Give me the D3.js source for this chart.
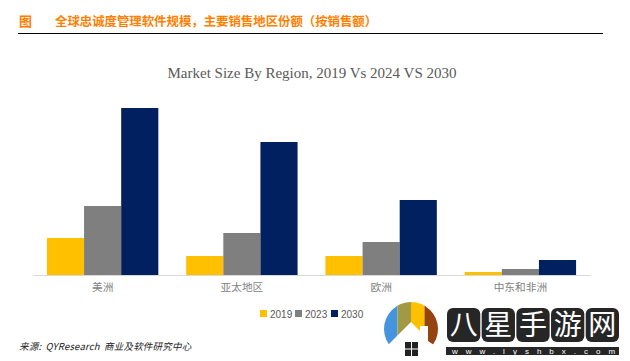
<!DOCTYPE html>
<html>
<head>
<meta charset="utf-8">
<script src="https://cdn.jsdelivr.net/npm/d3@7"></script>
<style>
html, body { margin: 0; padding: 0; background: #fff; }
svg { display: block; }
</style>
</head>
<body>
<svg id="chart" width="630" height="361"></svg>
<script>
// values
const regions = ['美洲', '亚太地区', '欧洲', '中东和非洲'];
const years = ['2019', '2023', '2030'];
const values2019 = [37, 19, 19, 3];
const values2023 = [69, 42, 33, 6];
const values2030 = [167, 133, 75, 15];
const yearColors = ['#ffc000', '#7f7f7f', '#002060'];
const logoColors = ['#4495dd', '#a09a45', '#ffc000', '#96440f'];
const siteChars = ['八', '星', '手', '游', '网'];

const cjk = '"Noto Sans CJK SC", sans-serif';
const svg = d3.select('#chart');

// header
svg.append('text').attr('x', 19).attr('y', 26)
    .attr('fill', '#ff8000').attr('font-family', cjk).attr('font-size', 13).attr('font-weight', 700)
    .text('图');
svg.append('text').attr('x', 55).attr('y', 26)
    .attr('fill', '#ff8000').attr('font-family', cjk).attr('font-size', 12.4).attr('font-weight', 700)
    .text('全球忠诚度管理软件规模，主要销售地区份额（按销售额）');
svg.append('line').attr('x1', 18).attr('x2', 603).attr('y1', 33.5).attr('y2', 33.5)
    .attr('stroke', '#000').attr('stroke-width', 1);

// chart title
svg.append('text').attr('x', 312).attr('y', 78).attr('text-anchor', 'middle')
    .attr('fill', '#595959').attr('font-family', '"Liberation Serif", serif').attr('font-size', 15)
    .text('Market Size By Region, 2019 Vs 2024 VS 2030');

// scales
const x0 = d3.scaleBand().domain(regions).range([33, 590]).paddingInner(0.2).paddingOuter(0.1);
const x1 = d3.scaleBand().domain(years).range([0, x0.bandwidth()]);
const y = d3.scaleLinear().domain([0, 167]).range([275, 108]);
const color = d3.scaleOrdinal().domain(years).range(yearColors);

const series = [values2019, values2023, values2030];
const groups = svg.append('g').selectAll('g')
    .data(regions)
    .join('g')
    .attr('transform', d => `translate(${x0(d)},0)`);

groups.selectAll('rect')
    .data((d, i) => years.map((yr, k) => ({ yr, v: series[k][i] })))
    .join('rect')
    .attr('x', d => x1(d.yr))
    .attr('y', d => y(d.v))
    .attr('width', x1.bandwidth())
    .attr('height', d => y(0) - y(d.v))
    .attr('fill', d => color(d.yr));

// category axis
const axis = svg.append('g').attr('transform', 'translate(0,275)')
    .call(d3.axisBottom(x0).tickSize(0).tickPadding(8));
axis.select('.domain').attr('stroke', '#d9d9d9').attr('stroke-width', 1);
axis.selectAll('text').attr('fill', '#7f7f7f').attr('font-family', cjk).attr('font-size', 10.7);

// legend
const legendX = [260, 295, 331];
const legend = svg.append('g').selectAll('g')
    .data(years)
    .join('g')
    .attr('transform', (d, i) => `translate(${legendX[i]},310)`);
legend.append('rect').attr('width', 7).attr('height', 7).attr('fill', d => color(d));
legend.append('text').attr('x', 10).attr('y', 8)
    .attr('fill', '#595959').attr('font-family', '"Liberation Sans", sans-serif').attr('font-size', 10)
    .text(d => d);

// source note
svg.append('text').attr('x', 19).attr('y', 350)
    .attr('fill', '#222').attr('font-family', cjk).attr('font-size', 9.5).attr('font-style', 'italic')
    .attr('letter-spacing', 0.2).attr('word-spacing', 2)
    .text('来源: QYResearch 商业及软件研究中心');

// site mark, bottom right: striped dome with a house cut out
const mark = svg.append('g');
const domeX = d3.scaleBand().domain(logoColors).range([384, 438]);
svg.append('defs').append('clipPath').attr('id', 'dome')
    .append('circle').attr('cx', 411).attr('cy', 329).attr('r', 27);
mark.append('g').attr('clip-path', 'url(#dome)')
    .selectAll('rect').data(logoColors).join('rect')
    .attr('x', d => domeX(d)).attr('y', 300).attr('width', domeX.bandwidth()).attr('height', 62)
    .attr('fill', d => d);
mark.append('path')
    .attr('d', 'M388 345L411 322L420 331V326H428V341L434 345V361H388Z')
    .attr('fill', '#fff');
mark.append('rect').attr('x', 405).attr('y', 342).attr('width', 13).attr('height', 14).attr('fill', '#222');
mark.append('path').attr('d', 'M411.5 342V356M405 349H418').attr('stroke', '#fff').attr('stroke-width', 1);

const siteX = d3.scaleBand().domain(siteChars).range([447, 619]).paddingInner(0.04);
mark.selectAll('rect.ch').data(siteChars).join('rect').attr('class', 'ch')
    .attr('x', d => siteX(d)).attr('y', 308).attr('width', siteX.bandwidth()).attr('height', 34).attr('rx', 6)
    .attr('fill', '#262626');
mark.selectAll('text.ch').data(siteChars).join('text').attr('class', 'ch')
    .attr('x', d => siteX(d) + siteX.bandwidth() / 2).attr('y', 335).attr('text-anchor', 'middle')
    .attr('fill', '#fff').attr('font-family', cjk).attr('font-size', 28).attr('font-weight', 400)
    .text(d => d);
mark.append('rect').attr('x', 446).attr('y', 347).attr('width', 173).attr('height', 8).attr('fill', '#262626');
mark.append('text').attr('x', 452).attr('y', 354)
    .attr('fill', '#fff').attr('font-family', '"Liberation Sans", sans-serif').attr('font-size', 8)
    .attr('letter-spacing', 8)
    .text('www.lyshbx.com');
</script>
</body>
</html>
